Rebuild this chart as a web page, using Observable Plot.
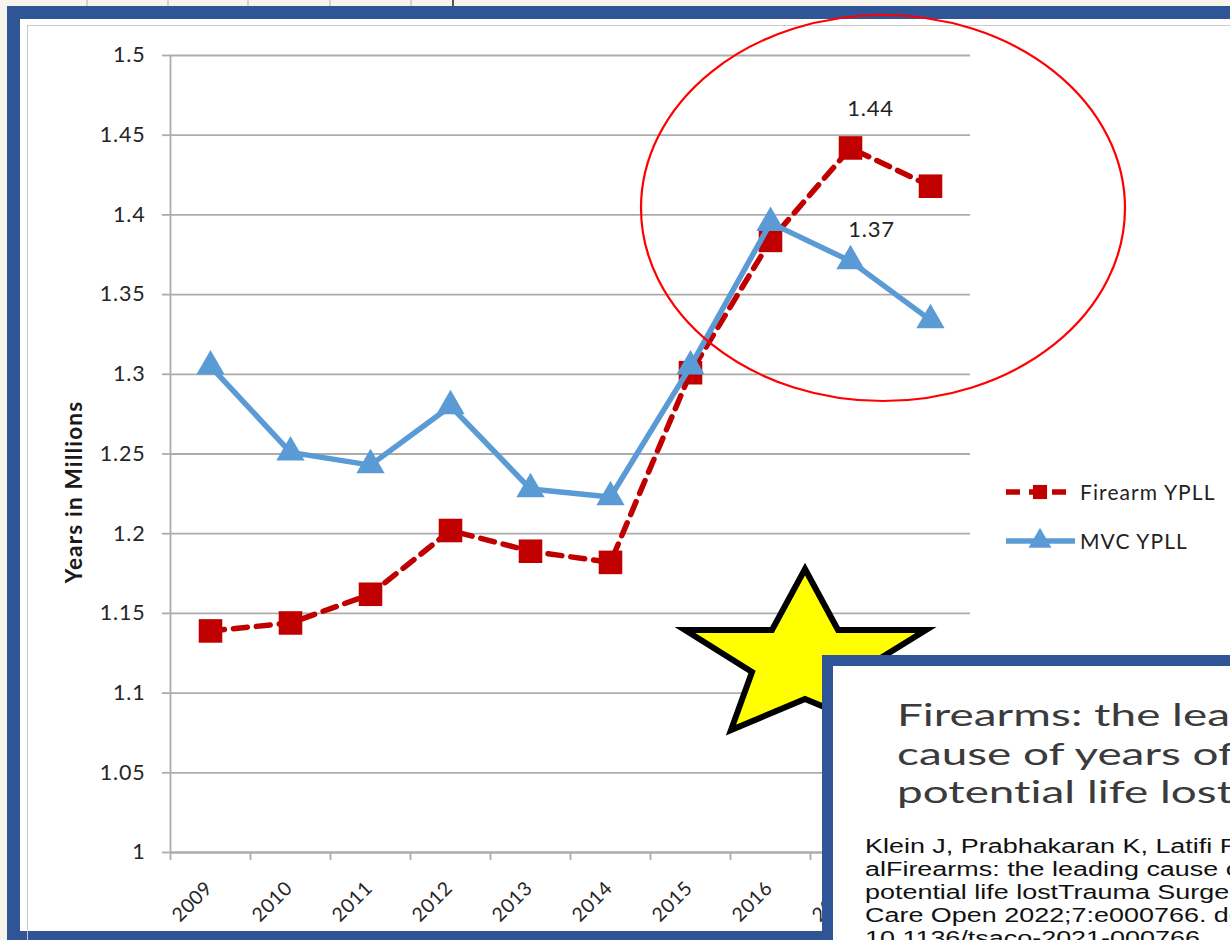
<!DOCTYPE html>
<html>
<head>
<meta charset="utf-8">
<script src="https://cdn.jsdelivr.net/npm/d3@7"></script>
<script src="https://cdn.jsdelivr.net/npm/@observablehq/plot@0.6"></script>
<style>
  html, body { margin: 0; padding: 0; }
  body { width: 1230px; height: 940px; overflow: hidden; background: #f6f4ec; font-family: Lato, "Open Sans", sans-serif; }
  #stage { position: relative; width: 1230px; height: 940px; overflow: hidden; }
  .abs { position: absolute; }
  #bgGrid { left: 0; top: 0; }
  #frame { left: 7px; top: 6px; width: 1400px; height: 912px; border: 13px solid #2f5597; background: #ffffff; }
  #inner { left: 27px; top: 25px; width: 1400px; height: 1000px; border-left: 1.5px solid #c9c9c9; border-top: 1.5px solid #c9c9c9; }
  #chart { left: 0; top: 0; }
  #ylabel { left: -36px; top: 478px; width: 220px; height: 28px; line-height: 28px; text-align: center; transform: rotate(-90deg); transform-origin: 110px 14px;
            font-family: Lato, sans-serif; font-weight: bold; font-size: 22.5px; letter-spacing: 1.2px; color: #1a1a1a; white-space: nowrap; }
  #legend, #overlay { left: 0; top: 0; }
  #overlay { pointer-events: none; }
  #overlay text { font-variant-ligatures: none; }
  .ticklab text { letter-spacing: 0.8px; }
  .xlab text { letter-spacing: 0.5px; }
</style>
</head>
<body>
<div id="stage">
  <svg id="bgGrid" class="abs" width="1230" height="940"></svg>
  <div id="frame" class="abs"></div>
  <div id="inner" class="abs"></div>
  <div id="chart" class="abs"></div>
  <div id="ylabel" class="abs"></div>
  <svg id="legend" class="abs" width="1230" height="940"></svg>
  <svg id="overlay" class="abs" width="1230" height="940"></svg>
</div>
<script>
// ---- Data ----
const years = [2009, 2010, 2011, 2012, 2013, 2014, 2015, 2016, 2017, 2018];
const firearmYPLL = [1.139, 1.144, 1.162, 1.202, 1.189, 1.182, 1.301, 1.384, 1.442, 1.418];
const mvcYPLL = [1.305, 1.251, 1.243, 1.280, 1.228, 1.223, 1.305, 1.395, 1.371, 1.334];
const seriesNames = ["Firearm YPLL", "MVC YPLL"];
const yTicks = [1, 1.05, 1.1, 1.15, 1.2, 1.25, 1.3, 1.35, 1.4, 1.45, 1.5];
const yLabel = "Years in Millions";
const firearmLabel = [{year: 2017, value: 1.442, text: "1.44"}];
const mvcLabel = [{year: 2017, value: 1.371, text: "1.37"}];
const titleLines = ["Firearms: the leading", "cause of years of", "potential life lost"];
const citeLines = [
  "Klein J, Prabhakaran K, Latifi R, et",
  "alFirearms: the leading cause of years of",
  "potential life lostTrauma Surgery & Acute",
  "Care Open 2022;7:e000766. doi:",
  "10.1136/tsaco-2021-000766."
];

const RED = "#c00000";
const BLUE = "#5b9bd5";
const GRID = "#acacac";
const TXT = "#262626";

const firearmRows = years.map((y, i) => ({year: y, value: firearmYPLL[i], series: seriesNames[0]}));
const mvcRows = years.map((y, i) => ({year: y, value: mvcYPLL[i], series: seriesNames[1]}));
const boundaries = d3.range(years.length + 1).map(i => years[0] - 0.5 + i);
const fmt = d => String(+d.toFixed(2));

const chart = Plot.plot({
  width: 1230,
  height: 940,
  marginLeft: 170,
  marginRight: 260,
  marginTop: 55,
  marginBottom: 88,
  style: {background: "transparent", fontFamily: "Lato, sans-serif", color: TXT},
  x: {type: "linear", domain: [years[0] - 0.5, years[years.length - 1] + 0.5]},
  y: {domain: [1, 1.5]},
  marks: [
    Plot.gridY(yTicks, {stroke: GRID, strokeOpacity: 1, strokeWidth: 1.8}),
    Plot.axisY(yTicks, {tickSize: 8, tickPadding: 17, fontSize: 21.5, stroke: GRID, strokeWidth: 1.8, tickFormat: fmt, label: null, fill: TXT, className: "ticklab"}),
    Plot.ruleX([boundaries[0]], {stroke: GRID, strokeWidth: 1.8}),
    Plot.ruleY([1], {stroke: GRID, strokeWidth: 1.8}),
    Plot.axisX(boundaries, {tickSize: 8, stroke: GRID, strokeWidth: 1.8, tickFormat: () => "", label: null}),
    Plot.text(years, {x: d => d, text: d => String(d), frameAnchor: "bottom", rotate: -45, textAnchor: "end", dx: 3, dy: 37, fontSize: 19.5, fill: TXT, className: "xlab"}),
    Plot.line(firearmRows, {x: "year", y: "value", stroke: RED, strokeWidth: 5.5, strokeDasharray: "14,9"}),
    Plot.dot(firearmRows, {x: "year", y: "value", symbol: "square", r: 13.3, fill: RED}),
    Plot.line(mvcRows, {x: "year", y: "value", stroke: BLUE, strokeWidth: 5.5}),
    Plot.dot(mvcRows, {x: "year", y: "value", symbol: "triangle", r: 10.5, fill: BLUE}),
    Plot.text(firearmLabel, {x: "year", y: "value", text: "text", dx: 20, dy: -39, fontSize: 22, fill: "#222", className: "ticklab"}),
    Plot.text(mvcLabel, {x: "year", y: "value", text: "text", dx: 21, dy: -31, fontSize: 22, fill: "#222", className: "ticklab"})
  ]
});
document.getElementById("chart").appendChild(chart);
document.getElementById("ylabel").textContent = yLabel;

// ---- Legend ----
const leg = d3.select("#legend");
const legendItems = [
  {name: seriesNames[0], color: RED, y: 492, dash: "14,9", shape: "square"},
  {name: seriesNames[1], color: BLUE, y: 541, dash: null, shape: "triangle"}
];
legendItems.forEach(it => {
  leg.append("line").attr("x1", 1006).attr("x2", 1075).attr("y1", it.y).attr("y2", it.y)
    .attr("stroke", it.color).attr("stroke-width", 5.5).attr("stroke-dasharray", it.dash);
  const sym = it.shape === "square" ? d3.symbolSquare : d3.symbolTriangle;
  const size = it.shape === "square" ? 200 : 230;
  leg.append("path").attr("d", d3.symbol(sym, size)()).attr("transform", `translate(1040,${it.y})`).attr("fill", it.color);
  leg.append("text").attr("x", 1080).attr("y", it.y).attr("dy", "0.36em")
    .attr("font-family", "Lato, sans-serif").attr("font-size", 21).attr("letter-spacing", "1.1px").attr("fill", "#222").text(it.name);
});

// ---- Background spreadsheet-like strip ----
const bg = d3.select("#bgGrid");
[87, 168, 248, 330, 411].forEach(x => bg.append("line").attr("x1", x).attr("x2", x).attr("y1", 0).attr("y2", 8).attr("stroke", "#cfc9b5").attr("stroke-width", 1.5));
bg.append("line").attr("x1", 453).attr("x2", 453).attr("y1", 0).attr("y2", 8).attr("stroke", "#222").attr("stroke-width", 1.5);

// ---- Overlay: ellipse, star, citation box ----
const ov = d3.select("#overlay");
ov.append("ellipse").attr("cx", 883).attr("cy", 208).attr("rx", 242).attr("ry", 193)
  .attr("fill", "none").attr("stroke", "#ff0000").attr("stroke-width", 2.2);
const starPts = [[805,569],[838,630],[926,630],[858,672],[880,730],[805,699],[731,730],[752,672],[685,630],[772,630]];
ov.append("polygon").attr("points", starPts.map(p => p.join(",")).join(" "))
  .attr("fill", "#ffff00").attr("stroke", "#000").attr("stroke-width", 6).attr("stroke-linejoin", "miter");
ov.append("rect").attr("x", 827.5).attr("y", 660.5).attr("width", 700).attr("height", 500)
  .attr("fill", "#ffffff").attr("stroke", "#2f5597").attr("stroke-width", 11);

const ctx = document.createElement("canvas").getContext("2d");
function stretchFor(font, sample, target) {
  ctx.font = font;
  const w = ctx.measureText(sample).width;
  return w > 0 ? target / w : 1;
}
const titleFont = "30px Lato";
const citeFont = "21px 'Liberation Sans'";
const sxTitle = stretchFor(titleFont, "Firearms: the lea", 333);
const sxCite = stretchFor(citeFont, "Klein J, Prabhakaran K, Latifi ", 355);

titleLines.forEach((t, i) => {
  ov.append("text").attr("transform", `translate(897,${726 + i * 38.5}) scale(${sxTitle},1)`)
    .attr("font-family", "Lato, sans-serif").attr("font-size", 30).attr("fill", "#3b3b3b").text(t);
});
citeLines.forEach((t, i) => {
  ov.append("text").attr("transform", `translate(865,${853 + i * 23}) scale(${sxCite},1)`)
    .attr("font-family", "'Liberation Sans', Arial, sans-serif").attr("font-size", 21).attr("fill", "#111").text(t);
});
</script>
</body>
</html>
